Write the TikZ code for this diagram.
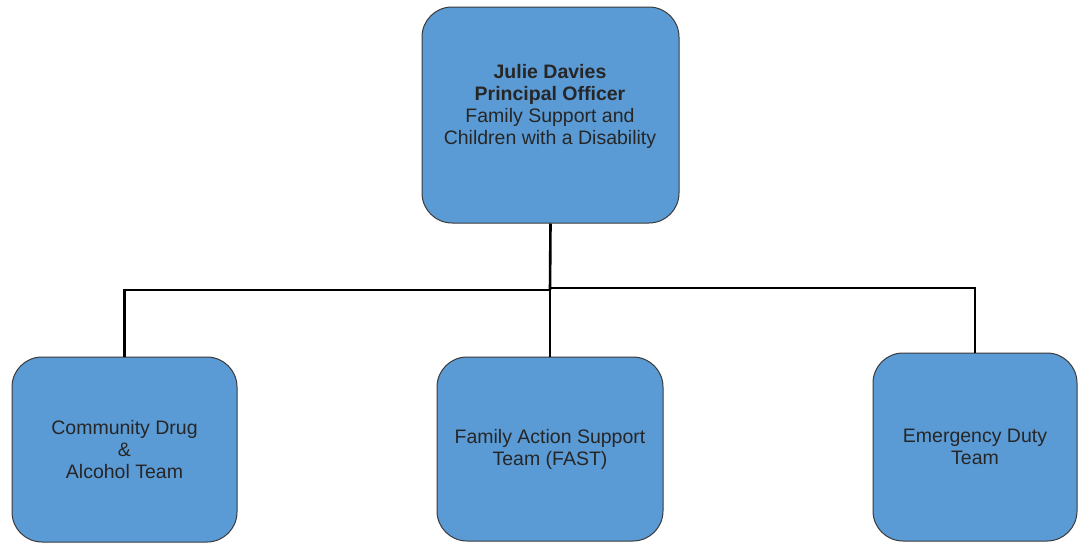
\documentclass[tikz,border=0pt]{standalone}
\usepackage{fontspec}
\setmainfont{Liberation Sans}
\definecolor{boxblue}{HTML}{5B9BD5}
\definecolor{boxedge}{HTML}{3A3A3A}
\begin{document}
\begin{tikzpicture}[x=1pt,y=-1pt,
  orgbox/.style={draw=boxedge, line width=1pt, fill=boxblue, rectangle,
    rounded corners=30pt, inner sep=0pt, align=center,
    font=\fontsize{19.5}{22}\selectfont, text=black!85},
  orgtext/.style={inner sep=0pt, align=center,
    font=\fontsize{19.5}{22}\selectfont, text=black!85},
  link/.style={draw=black, line width=2.6pt}]
\useasboundingbox (0,0) rectangle (1078,547);
% top box
\node[orgbox, minimum width=257pt, minimum height=216pt] (top) at (550.5,115) {};
\node[orgtext] (toptext) at (550,106) {\textbf{Julie Davies}\\\textbf{Principal Officer}\\Family Support and\\Children with a Disability};
% bottom boxes
\node[orgbox, minimum width=225pt, minimum height=185pt] (cdat) at (124.5,449.5) {Community Drug\\\&\\Alcohol Team};
\node[orgbox, minimum width=226pt, minimum height=184pt] (fast) at (550,449) {Family Action Support\\Team (FAST)};
\node[orgbox, minimum width=204pt, minimum height=188pt] (edt) at (975,447) {Emergency Duty\\Team};
% connectors
\coordinate (hubL) at (550,290);
\coordinate (hubR) at (550,288);
\draw[link] (top.south) -- (hubL);
\draw[link] (hubL) -- (fast.north);
\draw[link] (hubL) -| (cdat.north);
\draw[link] (hubR) -| (edt.north);
\end{tikzpicture}
\end{document}
